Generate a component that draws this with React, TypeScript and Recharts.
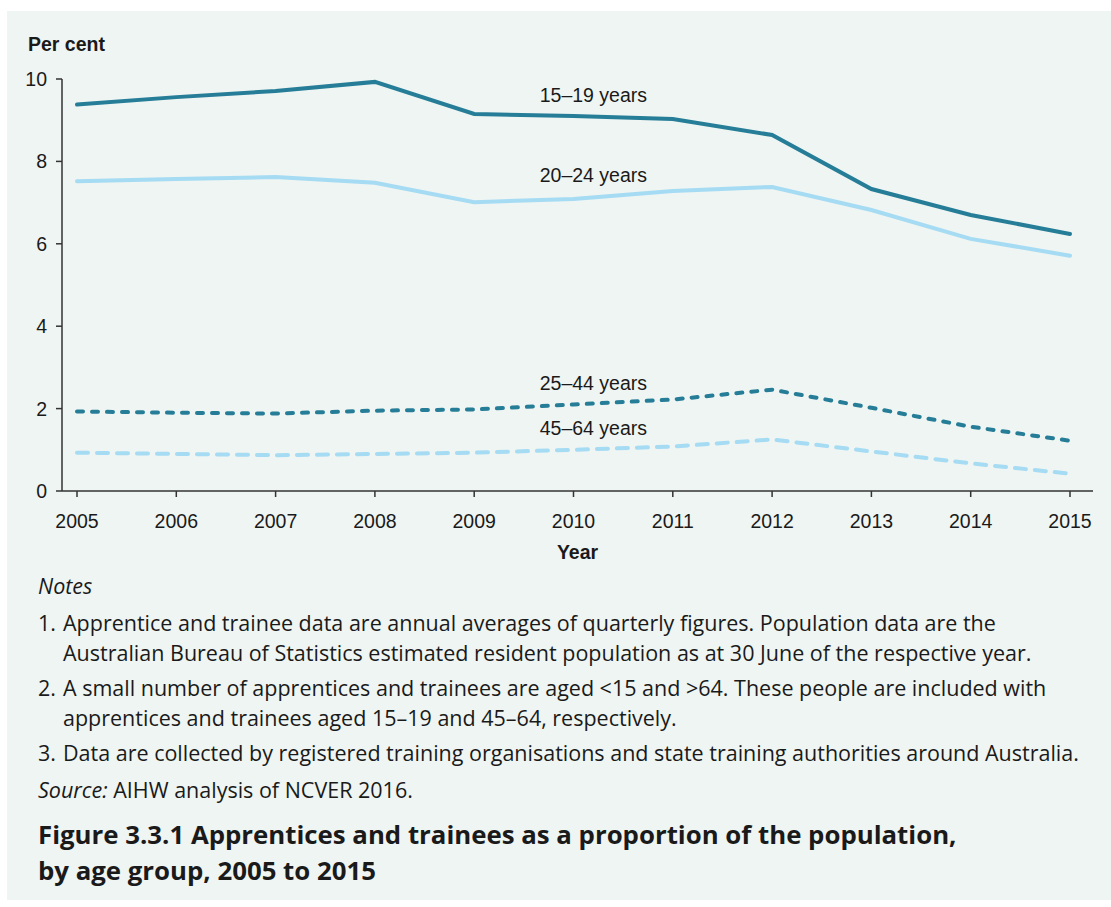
import { LineChart, Line, XAxis, YAxis, ReferenceDot } from 'recharts'

const years = [2005, 2006, 2007, 2008, 2009, 2010, 2011, 2012, 2013, 2014, 2015]
const age15to19 = [9.38, 9.56, 9.71, 9.93, 9.15, 9.1, 9.03, 8.64, 7.33, 6.7, 6.24]
const age20to24 = [7.52, 7.57, 7.62, 7.48, 7.01, 7.09, 7.28, 7.38, 6.82, 6.12, 5.71]
const age25to44 = [1.93, 1.9, 1.88, 1.95, 1.98, 2.1, 2.22, 2.46, 2.02, 1.56, 1.22]
const age45to64 = [0.93, 0.9, 0.87, 0.9, 0.93, 1.0, 1.08, 1.25, 0.96, 0.67, 0.42]
const yTicks = [0, 2, 4, 6, 8, 10]

const DARK = '#267d98'
const LIGHT = '#a5dbf3'
const chartFont = '"Liberation Sans", Arial, sans-serif'
const textFont = '"Open Sans", "Noto Sans", sans-serif'
const FS = 19.5

const data = years.map((year, i) => ({
    year,
    a: age15to19[i],
    b: age20to24[i],
    c: age25to44[i],
    d: age45to64[i],
}))

const seriesLabel = (value: string) => ({
    value,
    position: 'center' as const,
    fill: '#1a1a1a',
    fontSize: FS,
    fontFamily: chartFont,
})

export default function App() {
    return (
        <div
            style={{
                position: 'absolute',
                left: 7,
                top: 11,
                width: 1104,
                height: 889,
                background: '#eff5f2',
            }}
        >
            <div
                style={{
                    position: 'absolute',
                    left: 21,
                    top: 22,
                    fontFamily: chartFont,
                    fontWeight: 'bold',
                    fontSize: FS,
                    color: '#1a1a1a',
                }}
            >
                Per cent
            </div>
            <LineChart
                width={1104}
                height={560}
                data={data}
                margin={{ top: 68, right: 18, bottom: 10, left: 15 }}
            >
                <XAxis
                    dataKey="year"
                    type="number"
                    domain={[2005, 2015]}
                    ticks={years}
                    padding={{ left: 15, right: 23 }}
                    height={70}
                    tickSize={6}
                    tickMargin={17}
                    stroke="#333"
                    strokeWidth={1.5}
                    tick={{ fill: '#1a1a1a', fontSize: FS, fontFamily: chartFont }}
                    label={{
                        value: 'Year',
                        position: 'insideBottom',
                        offset: 2,
                        fill: '#1a1a1a',
                        fontSize: FS,
                        fontWeight: 'bold',
                        fontFamily: chartFont,
                    }}
                />
                <YAxis
                    domain={[0, 10]}
                    ticks={yTicks}
                    width={40}
                    tickSize={6}
                    tickMargin={9}
                    stroke="#333"
                    strokeWidth={1.5}
                    tick={{ fill: '#1a1a1a', fontSize: FS, fontFamily: chartFont }}
                />
                <Line dataKey="a" stroke={DARK} strokeWidth={4} dot={false} isAnimationActive={false} strokeLinecap="round" />
                <Line dataKey="b" stroke={LIGHT} strokeWidth={4} dot={false} isAnimationActive={false} strokeLinecap="round" />
                <Line dataKey="c" stroke={DARK} strokeWidth={4} strokeDasharray="6 9" strokeLinecap="round" dot={false} isAnimationActive={false} />
                <Line dataKey="d" stroke={LIGHT} strokeWidth={4} strokeDasharray="11 9" strokeLinecap="round" dot={false} isAnimationActive={false} />
                <ReferenceDot x={2010.2} y={9.61} r={0} fill="none" stroke="none" label={seriesLabel('15–19 years')} />
                <ReferenceDot x={2010.2} y={7.66} r={0} fill="none" stroke="none" label={seriesLabel('20–24 years')} />
                <ReferenceDot x={2010.2} y={2.62} r={0} fill="none" stroke="none" label={seriesLabel('25–44 years')} />
                <ReferenceDot x={2010.2} y={1.53} r={0} fill="none" stroke="none" label={seriesLabel('45–64 years')} />
            </LineChart>
            <div
                style={{
                    position: 'absolute',
                    left: 31,
                    top: 560,
                    width: 1070,
                    fontFamily: textFont,
                    fontSize: 21.5,
                    color: '#1a1a1a',
                    lineHeight: '30px',
                    whiteSpace: 'nowrap',
                }}
            >
                <div style={{ fontStyle: 'italic' }}>Notes</div>
                <div style={{ marginTop: 7, display: 'flex' }}>
                    <span style={{ width: 25, flexShrink: 0 }}>1.</span>
                    <span>
                        Apprentice and trainee data are annual averages of quarterly figures. Population data are the
                        <br />
                        Australian Bureau of Statistics estimated resident population as at 30 June of the respective year.
                    </span>
                </div>
                <div style={{ marginTop: 5, display: 'flex' }}>
                    <span style={{ width: 25, flexShrink: 0 }}>2.</span>
                    <span>
                        A small number of apprentices and trainees are aged &lt;15 and &gt;64. These people are included with
                        <br />
                        apprentices and trainees aged 15–19 and 45–64, respectively.
                    </span>
                </div>
                <div style={{ marginTop: 5, display: 'flex' }}>
                    <span style={{ width: 25, flexShrink: 0 }}>3.</span>
                    <span>
                        Data are collected by registered training organisations and state training authorities around Australia.
                    </span>
                </div>
                <div style={{ marginTop: 7 }}>
                    <i>Source:</i> AIHW analysis of NCVER 2016.
                </div>
                <div
                    style={{
                        marginTop: 11,
                        fontWeight: 'bold',
                        fontSize: 25.8,
                        lineHeight: '36px',
                    }}
                >
                    Figure 3.3.1 Apprentices and trainees as a proportion of the population,
                    <br />
                    by age group, 2005 to 2015
                </div>
            </div>
        </div>
    )
}
